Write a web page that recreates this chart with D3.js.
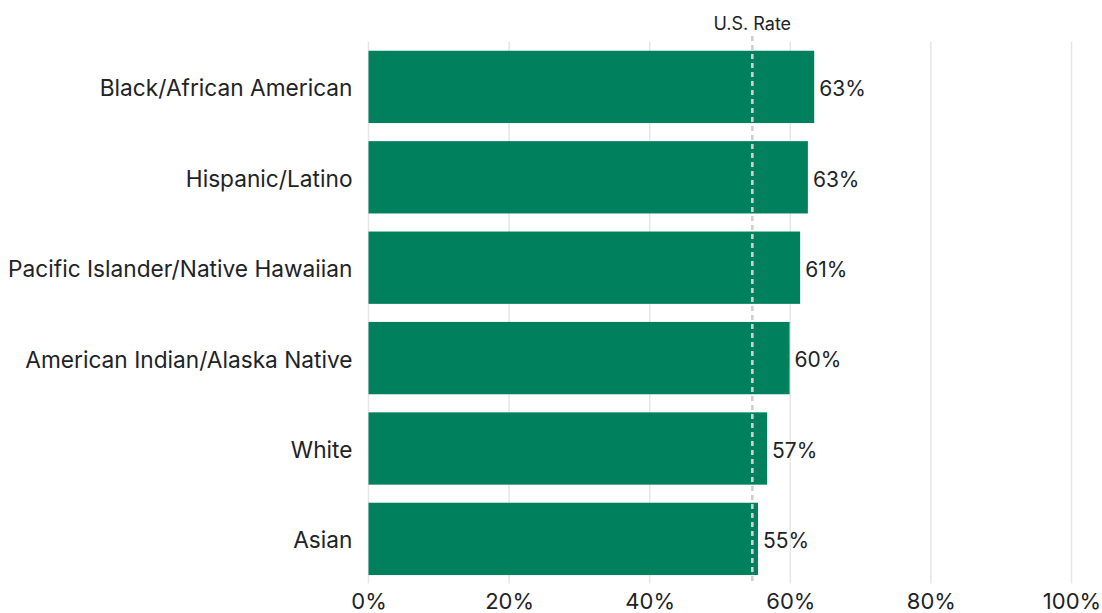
<!DOCTYPE html>
<html>
<head>
<meta charset="utf-8">
<script src="https://cdn.jsdelivr.net/npm/d3@7"></script>
<style>
  html, body { margin: 0; padding: 0; background: #fff; }
  svg { display: block; font-family: "Inter", "Noto Sans", sans-serif; }
</style>
</head>
<body>
<svg id="chart" width="1102" height="613"></svg>
<script>
// Share by race/ethnicity, with the national rate as a reference line
const categories = [
  "Black/African American",
  "Hispanic/Latino",
  "Pacific Islander/Native Hawaiian",
  "American Indian/Alaska Native",
  "White",
  "Asian"
];
const values = [63.4, 62.5, 61.4, 59.9, 56.7, 55.4];
const usRate = 54.6;
const tickValues = [0, 20, 40, 60, 80, 100];

const svg = d3.select("#chart");
const textColor = "#1d2327";
const barColor = "#00805c";

const x = d3.scaleLinear().domain([0, 100]).range([368.5, 1071.5]);
const y = d3.scaleBand()
  .domain(categories)
  .range([41.7, 584.1])
  .paddingInner(0.2)
  .paddingOuter(0.1);

const plotTop = 41.7, plotBottom = 583.5;

// Vertical gridlines
svg.append("g")
  .selectAll("line")
  .data(tickValues)
  .join("line")
  .attr("x1", d => x(d)).attr("x2", d => x(d))
  .attr("y1", plotTop).attr("y2", plotBottom)
  .attr("stroke", "#e6e6e6")
  .attr("stroke-width", 1.5);

// Bars
svg.append("g")
  .selectAll("rect")
  .data(categories)
  .join("rect")
  .attr("x", x(0))
  .attr("y", d => y(d))
  .attr("width", (d, i) => x(values[i]) - x(0))
  .attr("height", y.bandwidth())
  .attr("fill", barColor);

// U.S. rate reference line
svg.append("line")
  .attr("x1", x(usRate)).attr("x2", x(usRate))
  .attr("y1", 36).attr("y2", plotBottom)
  .attr("stroke", "#d0d0d0")
  .attr("stroke-width", 2.6)
  .attr("stroke-dasharray", "5,4");

svg.append("text")
  .attr("x", x(usRate))
  .attr("y", 30)
  .attr("text-anchor", "middle")
  .attr("font-size", 18)
  .attr("fill", textColor)
  .text("U.S. Rate");

// Value labels
const fmt = d => d3.format(".0f")(d) + "%";
svg.append("g")
  .selectAll("text")
  .data(categories)
  .join("text")
  .attr("x", (d, i) => x(values[i]) + 5)
  .attr("y", d => y(d) + y.bandwidth() / 2)
  .attr("dy", "0.44em")
  .attr("font-size", 21)
  .attr("fill", textColor)
  .text((d, i) => fmt(values[i]));

// Category axis
const yAxis = svg.append("g")
  .attr("transform", `translate(${x(0)},0)`)
  .call(d3.axisLeft(y).tickSize(0).tickPadding(16));
yAxis.select(".domain").remove();
yAxis.selectAll("text")
  .attr("font-size", 22.7)
  .attr("dy", "0.42em")
  .attr("font-family", "Inter, 'Noto Sans', sans-serif")
  .attr("fill", textColor);

// Percentage axis
const xAxis = svg.append("g")
  .attr("transform", `translate(0,${plotBottom})`)
  .call(d3.axisBottom(x).tickValues(tickValues).tickFormat(d => d + "%").tickSize(0).tickPadding(10));
xAxis.select(".domain").remove();
xAxis.selectAll("text")
  .attr("font-size", 22)
  .attr("font-family", "Inter, 'Noto Sans', sans-serif")
  .attr("fill", textColor);
</script>
</body>
</html>
